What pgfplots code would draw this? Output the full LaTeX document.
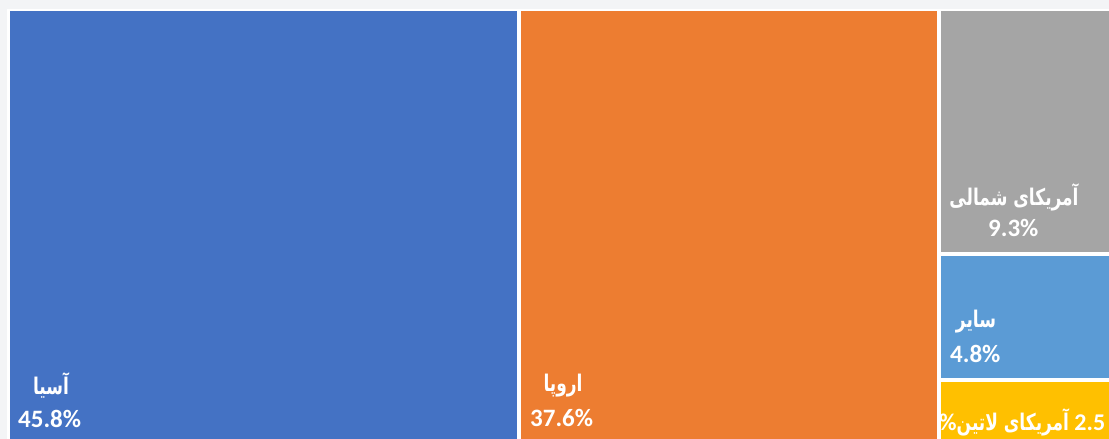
\documentclass[border=0pt]{standalone}
\usepackage{pgfplots}
\pgfplotsset{compat=1.18}
\usepackage{fontspec}
\setmainfont{Carlito}
\newfontfamily\arabicfont[Script=Arabic]{DejaVu Sans}
\TeXXeTstate=1

\definecolor{bgc}{HTML}{F3F4F6}
\definecolor{asia}{HTML}{4472C4}
\definecolor{europe}{HTML}{ED7D31}
\definecolor{namerica}{HTML}{A5A5A5}
\definecolor{other}{HTML}{5B9BD5}
\definecolor{latam}{HTML}{FFC000}

% Persian labels: DejaVu Sans is squat, so stretch it a little upwards
\newcommand{\fa}[1]{\scalebox{1}[1.35]{\arabicfont\bfseries\fontsize{17}{20}\selectfont\beginR #1\endR}}
\newcommand{\pct}[1]{{\bfseries\fontsize{25}{28}\selectfont #1}}

% treemap shares (%): Asia 45.8, Europe 37.6, N. America 9.3, Other 4.8, Latin America 2.5
\begin{document}
\begin{tikzpicture}
\begin{axis}[
  width=1109pt, height=439pt, scale only axis,
  xmin=0, xmax=1109, ymin=0, ymax=439, y dir=reverse,
  hide axis, clip=true,
]
% page background and white frame
\addplot[fill=bgc, draw=none] coordinates {(0,0) (1109,0) (1109,439) (0,439)} -- cycle;
\addplot[fill=white, draw=none] coordinates {(7,9) (1109,9) (1109,439) (7,439)} -- cycle;

% tiles
\addplot[fill=asia, draw=none] coordinates {(10,11) (516.5,11) (516.5,439) (10,439)} -- cycle;
\addplot[fill=europe, draw=none] coordinates {(520.5,11) (937,11) (937,439) (520.5,439)} -- cycle;
\addplot[fill=namerica, draw=none] coordinates {(941,11) (1109,11) (1109,251.5) (941,251.5)} -- cycle;
\addplot[fill=other, draw=none] coordinates {(941,255.5) (1109,255.5) (1109,377.5) (941,377.5)} -- cycle;
\addplot[fill=latam, draw=none] coordinates {(941,381.5) (1109,381.5) (1109,439) (941,439)} -- cycle;

% labels
\begin{scope}[every node/.style={text=white, inner sep=0pt}]
\node[text=white, anchor=center] at (axis cs:51,385) {\fa{آسیا}};
\node[text=white, anchor=base west] at (axis cs:18,427) {\pct{45.8\%}};

\node[text=white, anchor=center] at (axis cs:563,386) {\fa{اروپا}};
\node[text=white, anchor=base west] at (axis cs:530,426) {\pct{37.6\%}};

\node[text=white, anchor=center] at (axis cs:1014,197) {\fa{آمریکای شمالی}};
\node[text=white, anchor=base west] at (axis cs:988,236) {\pct{9.3\%}};

\node[text=white, anchor=center] at (axis cs:976,322) {\fa{سایر}};
\node[text=white, anchor=base west] at (axis cs:950,362) {\pct{4.8\%}};

\node[text=white, anchor=base west] at (axis cs:939,430) {{\bfseries\fontsize{24}{28}\selectfont \%}\fa{آمریکای لاتین}{\bfseries\fontsize{24}{28}\selectfont\ 2.5}};
\end{scope}
\end{axis}
\end{tikzpicture}
\end{document}
